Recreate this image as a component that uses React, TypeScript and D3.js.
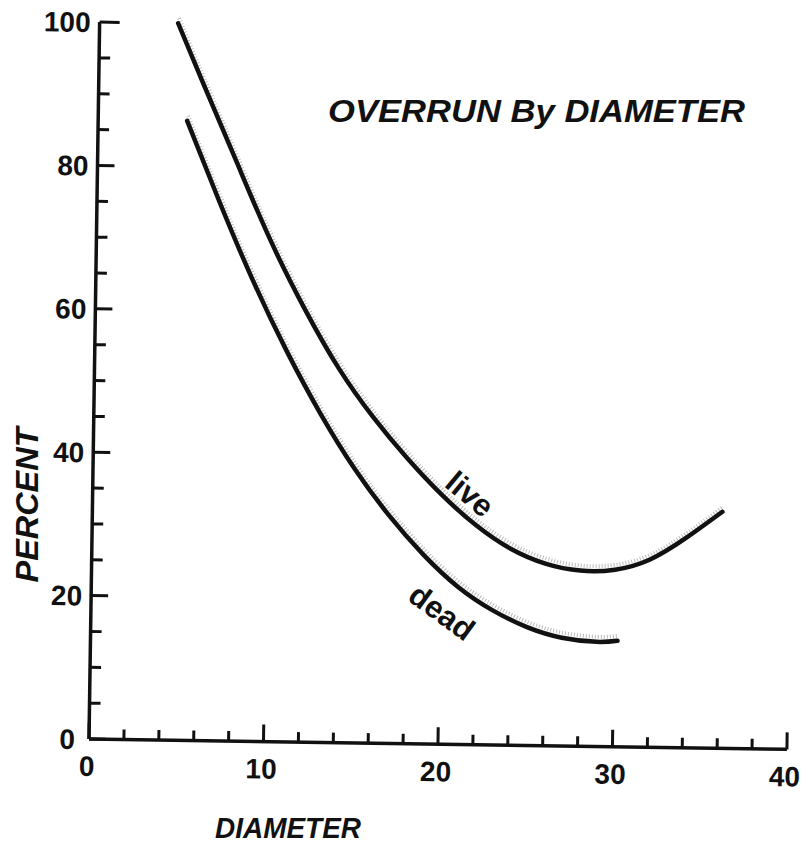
import React from 'react';
import * as d3 from 'd3';

// values
const liveDiameter = [4.5, 6, 8, 10, 12, 14, 16, 18, 20, 22, 24, 26, 28, 30, 32, 34, 36.1];
const livePercent = [100, 91.6, 80.6, 69.8, 60.4, 52.2, 45.5, 39.8, 34.8, 30.6, 27.4, 25.4, 24.5, 24.7, 26.2, 29.2, 33.0];

const deadDiameter = [5.1, 7, 9, 11, 13, 15, 17, 19, 21, 23, 25, 27, 29, 30.2];
const deadPercent = [86.4, 75.3, 64.3, 54.5, 45.8, 38.2, 31.8, 26.4, 22.0, 18.8, 16.5, 15.1, 14.6, 14.8];

const xTickLabels = [0, 10, 20, 30, 40];
const yTickLabels = [0, 20, 40, 60, 80, 100];

const W = 812;
const H = 847;
const origin = [89, 739];
const tilt = 0.85; // the scan is a little crooked

const font = '"Liberation Sans", Arial, sans-serif';

function App() {
  const x = d3.scaleLinear().domain([0, 40]).range([0, 698]);
  const y = d3.scaleLinear().domain([0, 100]).range([0, -717]);

  const line = d3.line<[number, number]>()
    .x(d => x(d[0]))
    .y(d => y(d[1]))
    .curve(d3.curveNatural);

  const live = liveDiameter.map((d, i) => [d, livePercent[i]] as [number, number]);
  const dead = deadDiameter.map((d, i) => [d, deadPercent[i]] as [number, number]);

  const xTicks = d3.range(0, 41, 2);
  const yTicks = d3.range(0, 101, 5);

  return (
    <svg width={W} height={H} style={{ position: 'absolute', left: 0, top: 0, background: '#fff' }}>
      <g transform={`translate(${origin[0]},${origin[1]}) rotate(${tilt})`}>
        {/* photocopy halo */}
        <path d={line(live) || ''} transform="translate(1,-5)" fill="none" stroke="#bbb" strokeWidth={4} strokeDasharray="1 2" />
        <path d={line(dead) || ''} transform="translate(1,-5)" fill="none" stroke="#bbb" strokeWidth={4} strokeDasharray="1 2" />

        {/* axes */}
        <line x1={0} y1={y(0)} x2={0} y2={y(100)} stroke="#111" strokeWidth={3.5} />
        <line x1={0} y1={y(0)} x2={x(40)} y2={y(0)} stroke="#111" strokeWidth={3.5} />
        {yTicks.map(t => (
          <line key={'yt' + t} x1={0} x2={t % 20 === 0 ? (t === 100 ? 20 : 17) : 11}
            y1={y(t)} y2={y(t)} stroke="#111" strokeWidth={3} />
        ))}
        {xTicks.map(t => (
          <line key={'xt' + t} x1={x(t)} x2={x(t)} y1={0} y2={t % 10 === 0 ? -17 : -10}
            stroke="#111" strokeWidth={3} />
        ))}
        {yTickLabels.map(t => (
          <text key={'yl' + t} x={t === 0 ? -14 : -9} y={y(t)} dy="0.36em" textAnchor="end"
            fontFamily={font} fontWeight="bold" fontSize={28} fill="#111">{t}</text>
        ))}
        {xTickLabels.map(t => (
          <text key={'xl' + t} x={x(t) - 2} y={37} textAnchor="middle"
            fontFamily={font} fontWeight="bold" fontSize={28} fill="#111">{t}</text>
        ))}

        {/* curves */}
        <path d={line(live) || ''} fill="none" stroke="#111" strokeWidth={4.5} strokeLinecap="round" />
        <path d={line(dead) || ''} fill="none" stroke="#111" strokeWidth={4.5} strokeLinecap="round" />
      </g>

      <text x={470} y={494} transform="rotate(40 470 494)" textAnchor="middle" dy="0.35em"
        fontFamily={font} fontWeight="bold" fontSize={31} fill="#111">live</text>
      <text x={442} y={612} transform="rotate(36 442 612)" textAnchor="middle" dy="0.35em"
        fontFamily={font} fontWeight="bold" fontSize={31} fill="#111">dead</text>

      <text x={328} y={122} textLength={417} lengthAdjust="spacingAndGlyphs"
        fontFamily={font} fontStyle="italic" fontWeight="bold" fontSize={31} fill="#111">
        OVERRUN  By  DIAMETER
      </text>
      <text transform="translate(38,505) rotate(-90)" textAnchor="middle" textLength={155} lengthAdjust="spacingAndGlyphs"
        fontFamily={font} fontStyle="italic" fontWeight="bold" fontSize={31} fill="#111">PERCENT</text>
      <text x={215} y={838} textLength={146} lengthAdjust="spacingAndGlyphs"
        fontFamily={font} fontStyle="italic" fontWeight="bold" fontSize={30} fill="#111">DIAMETER</text>
    </svg>
  );
}

export default App;
